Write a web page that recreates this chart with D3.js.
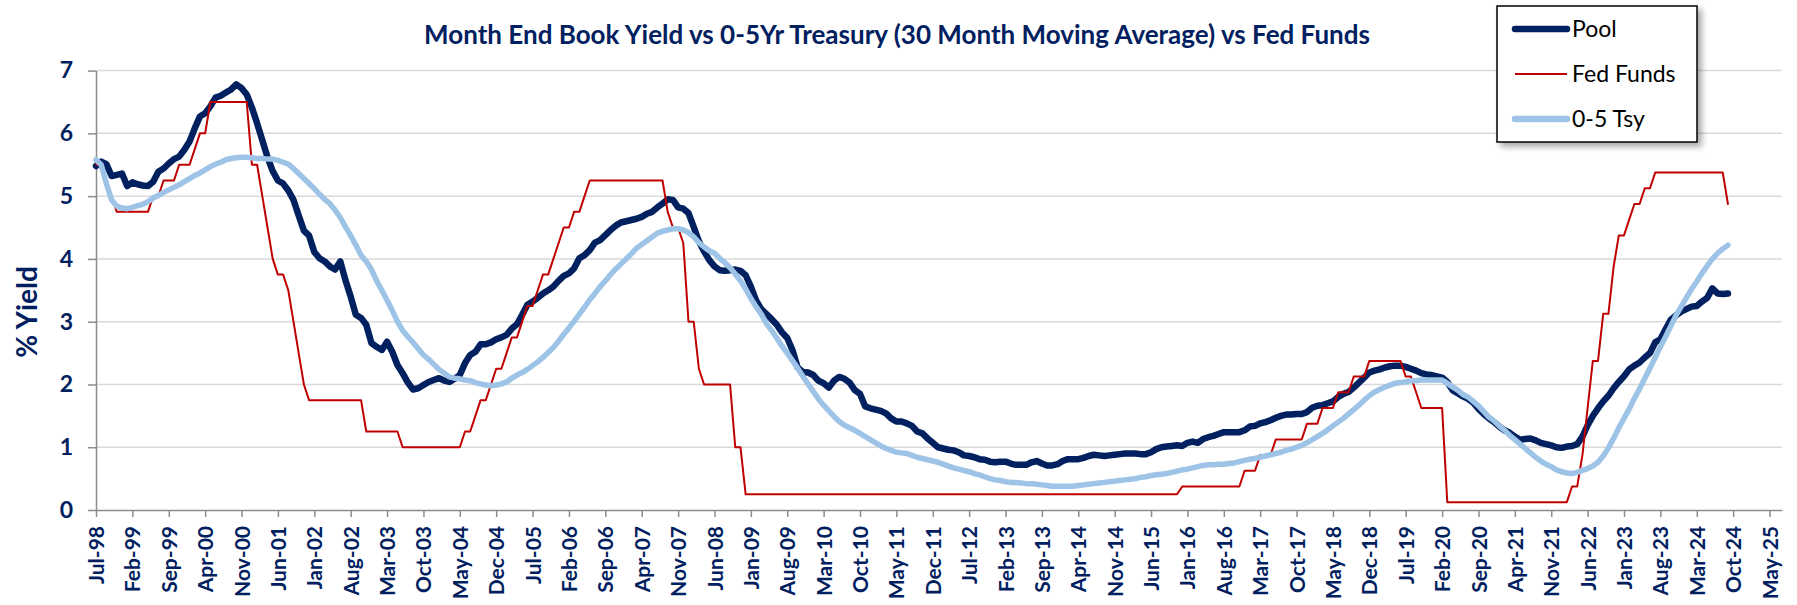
<!DOCTYPE html>
<html>
<head>
<meta charset="utf-8">
<script src="https://cdn.jsdelivr.net/npm/d3@7/dist/d3.min.js"></script>
<style>
body { margin: 0; background: #ffffff; }
text { font-family: Lato, "Open Sans", sans-serif; }
</style>
</head>
<body>
<div id="chart"></div>
<script>
// monthly month-end values, first point Jul-98, last point Sep-24
var tickLabels = ["Jul-98","Feb-99","Sep-99","Apr-00","Nov-00","Jun-01","Jan-02","Aug-02","Mar-03","Oct-03",
    "May-04","Dec-04","Jul-05","Feb-06","Sep-06","Apr-07","Nov-07","Jun-08","Jan-09","Aug-09",
    "Mar-10","Oct-10","May-11","Dec-11","Jul-12","Feb-13","Sep-13","Apr-14","Nov-14","Jun-15",
    "Jan-16","Aug-16","Mar-17","Oct-17","May-18","Dec-18","Jul-19","Feb-20","Sep-20","Apr-21",
    "Nov-21","Jun-22","Jan-23","Aug-23","Mar-24","Oct-24","May-25"];
var monthsPerTick = 7;
var yTicks = [0, 1, 2, 3, 4, 5, 6, 7];

var pool = [
    5.48, 5.55, 5.51, 5.32, 5.34, 5.36,
    5.16, 5.22, 5.19, 5.17, 5.16, 5.23, 5.39, 5.44, 5.52, 5.59, 5.63, 5.74,
    5.87, 6.08, 6.27, 6.32, 6.43, 6.57, 6.60, 6.65, 6.70, 6.78, 6.72, 6.62,
    6.41, 6.16, 5.89, 5.62, 5.40, 5.25, 5.20, 5.09, 4.94, 4.69, 4.45, 4.37,
    4.11, 4.01, 3.96, 3.88, 3.83, 3.96, 3.66, 3.40, 3.11, 3.06, 2.95, 2.66,
    2.60, 2.55, 2.68, 2.52, 2.31, 2.18, 2.03, 1.92, 1.94, 1.99, 2.04, 2.07,
    2.10, 2.06, 2.04, 2.09, 2.15, 2.34, 2.47, 2.52, 2.64, 2.64, 2.67, 2.72,
    2.75, 2.79, 2.89, 2.96, 3.11, 3.27, 3.32, 3.38, 3.45, 3.50, 3.56, 3.65,
    3.73, 3.77, 3.85, 4.01, 4.06, 4.14, 4.26, 4.30, 4.38, 4.46, 4.53, 4.58,
    4.60, 4.62, 4.64, 4.67, 4.72, 4.75, 4.82, 4.88, 4.95, 4.94, 4.82, 4.80,
    4.73, 4.51, 4.28, 4.12, 3.98, 3.88, 3.82, 3.81, 3.82, 3.83, 3.81, 3.74,
    3.56, 3.34, 3.20, 3.12, 3.04, 2.95, 2.83, 2.74, 2.55, 2.27, 2.20, 2.19,
    2.15, 2.06, 2.02, 1.95, 2.06, 2.12, 2.09, 2.03, 1.91, 1.85, 1.65, 1.62,
    1.60, 1.58, 1.54, 1.46, 1.41, 1.41, 1.38, 1.34, 1.25, 1.22, 1.14, 1.07,
    1.00, 0.98, 0.96, 0.95, 0.92, 0.87, 0.86, 0.84, 0.81, 0.80, 0.77, 0.76,
    0.77, 0.77, 0.74, 0.72, 0.72, 0.72, 0.76, 0.78, 0.74, 0.71, 0.71, 0.73,
    0.78, 0.81, 0.81, 0.81, 0.83, 0.86, 0.88, 0.87, 0.86, 0.87, 0.88, 0.89,
    0.90, 0.90, 0.90, 0.89, 0.89, 0.92, 0.97, 1.00, 1.01, 1.02, 1.03, 1.02,
    1.07, 1.09, 1.07, 1.13, 1.16, 1.18, 1.21, 1.24, 1.24, 1.24, 1.24, 1.27,
    1.33, 1.34, 1.38, 1.40, 1.43, 1.47, 1.50, 1.52, 1.52, 1.53, 1.53, 1.56,
    1.63, 1.66, 1.67, 1.70, 1.73, 1.80, 1.85, 1.88, 1.95, 2.03, 2.11, 2.19,
    2.22, 2.24, 2.27, 2.29, 2.30, 2.30, 2.28, 2.25, 2.22, 2.18, 2.16, 2.15,
    2.13, 2.11, 2.04, 1.91, 1.86, 1.81, 1.77, 1.71, 1.61, 1.53, 1.46, 1.40,
    1.33, 1.27, 1.23, 1.17, 1.12, 1.13, 1.14, 1.11, 1.07, 1.05, 1.03, 1.00,
    0.99, 1.01, 1.02, 1.05, 1.17, 1.35, 1.50, 1.62, 1.73, 1.82, 1.94, 2.04,
    2.13, 2.24, 2.30, 2.35, 2.43, 2.50, 2.67, 2.72, 2.88, 3.03, 3.10, 3.16,
    3.20, 3.24, 3.25, 3.32, 3.38, 3.53, 3.45, 3.44, 3.45
];

var fedFunds = [
    5.5, 5.5, 5.25, 5.0, 4.75, 4.75,
    4.75, 4.75, 4.75, 4.75, 4.75, 5.0, 5.0, 5.25, 5.25, 5.25, 5.5, 5.5,
    5.5, 5.75, 6.0, 6.0, 6.5, 6.5, 6.5, 6.5, 6.5, 6.5, 6.5, 6.5,
    5.5, 5.5, 5.0, 4.5, 4.0, 3.75, 3.75, 3.5, 3.0, 2.5, 2.0, 1.75,
    1.75, 1.75, 1.75, 1.75, 1.75, 1.75, 1.75, 1.75, 1.75, 1.75, 1.25, 1.25,
    1.25, 1.25, 1.25, 1.25, 1.25, 1.0, 1.0, 1.0, 1.0, 1.0, 1.0, 1.0,
    1.0, 1.0, 1.0, 1.0, 1.0, 1.25, 1.25, 1.5, 1.75, 1.75, 2.0, 2.25,
    2.25, 2.5, 2.75, 2.75, 3.0, 3.25, 3.25, 3.5, 3.75, 3.75, 4.0, 4.25,
    4.5, 4.5, 4.75, 4.75, 5.0, 5.25, 5.25, 5.25, 5.25, 5.25, 5.25, 5.25,
    5.25, 5.25, 5.25, 5.25, 5.25, 5.25, 5.25, 5.25, 4.75, 4.5, 4.5, 4.25,
    3.0, 3.0, 2.25, 2.0, 2.0, 2.0, 2.0, 2.0, 2.0, 1.0, 1.0, 0.25,
    0.25, 0.25, 0.25, 0.25, 0.25, 0.25, 0.25, 0.25, 0.25, 0.25, 0.25, 0.25,
    0.25, 0.25, 0.25, 0.25, 0.25, 0.25, 0.25, 0.25, 0.25, 0.25, 0.25, 0.25,
    0.25, 0.25, 0.25, 0.25, 0.25, 0.25, 0.25, 0.25, 0.25, 0.25, 0.25, 0.25,
    0.25, 0.25, 0.25, 0.25, 0.25, 0.25, 0.25, 0.25, 0.25, 0.25, 0.25, 0.25,
    0.25, 0.25, 0.25, 0.25, 0.25, 0.25, 0.25, 0.25, 0.25, 0.25, 0.25, 0.25,
    0.25, 0.25, 0.25, 0.25, 0.25, 0.25, 0.25, 0.25, 0.25, 0.25, 0.25, 0.25,
    0.25, 0.25, 0.25, 0.25, 0.25, 0.25, 0.25, 0.25, 0.25, 0.25, 0.25, 0.375,
    0.375, 0.375, 0.375, 0.375, 0.375, 0.375, 0.375, 0.375, 0.375, 0.375, 0.375, 0.625,
    0.625, 0.625, 0.875, 0.875, 0.875, 1.125, 1.125, 1.125, 1.125, 1.125, 1.125, 1.375,
    1.375, 1.375, 1.625, 1.625, 1.625, 1.875, 1.875, 1.875, 2.125, 2.125, 2.125, 2.375,
    2.375, 2.375, 2.375, 2.375, 2.375, 2.375, 2.125, 2.125, 1.875, 1.625, 1.625, 1.625,
    1.625, 1.625, 0.125, 0.125, 0.125, 0.125, 0.125, 0.125, 0.125, 0.125, 0.125, 0.125,
    0.125, 0.125, 0.125, 0.125, 0.125, 0.125, 0.125, 0.125, 0.125, 0.125, 0.125, 0.125,
    0.125, 0.125, 0.375, 0.375, 0.875, 1.625, 2.375, 2.375, 3.125, 3.125, 3.875, 4.375,
    4.375, 4.625, 4.875, 4.875, 5.125, 5.125, 5.375, 5.375, 5.375, 5.375, 5.375, 5.375,
    5.375, 5.375, 5.375, 5.375, 5.375, 5.375, 5.375, 5.375, 4.875
];

var tsy = [
    5.58, 5.50, 5.20, 4.94, 4.84, 4.81,
    4.80, 4.82, 4.85, 4.87, 4.91, 4.97, 5.01, 5.06, 5.10, 5.14, 5.18, 5.23,
    5.28, 5.33, 5.37, 5.42, 5.47, 5.51, 5.54, 5.58, 5.60, 5.61, 5.62, 5.62,
    5.61, 5.60, 5.60, 5.59, 5.59, 5.57, 5.54, 5.51, 5.44, 5.36, 5.28, 5.20,
    5.12, 5.03, 4.95, 4.88, 4.78, 4.66, 4.51, 4.37, 4.22, 4.06, 3.96, 3.83,
    3.65, 3.50, 3.34, 3.18, 3.00, 2.86, 2.76, 2.67, 2.57, 2.47, 2.40, 2.32,
    2.24, 2.18, 2.12, 2.10, 2.09, 2.07, 2.06, 2.03, 2.01, 1.99, 1.98, 1.99,
    2.01, 2.04, 2.10, 2.15, 2.19, 2.24, 2.30, 2.36, 2.43, 2.51, 2.59, 2.69,
    2.80, 2.90, 3.01, 3.12, 3.23, 3.35, 3.45, 3.56, 3.65, 3.75, 3.84, 3.92,
    4.00, 4.08, 4.17, 4.23, 4.29, 4.35, 4.41, 4.44, 4.46, 4.48, 4.48, 4.46,
    4.42, 4.35, 4.26, 4.19, 4.13, 4.09, 4.01, 3.94, 3.86, 3.76, 3.65, 3.52,
    3.37, 3.24, 3.12, 2.97, 2.86, 2.74, 2.61, 2.50, 2.38, 2.26, 2.13, 2.01,
    1.89, 1.77, 1.67, 1.58, 1.49, 1.41, 1.35, 1.31, 1.27, 1.22, 1.17, 1.12,
    1.07, 1.02, 0.98, 0.95, 0.92, 0.91, 0.90, 0.87, 0.84, 0.82, 0.80, 0.78,
    0.76, 0.73, 0.70, 0.67, 0.65, 0.63, 0.61, 0.58, 0.56, 0.53, 0.50, 0.48,
    0.47, 0.45, 0.44, 0.44, 0.43, 0.42, 0.42, 0.41, 0.40, 0.39, 0.38, 0.38,
    0.38, 0.38, 0.38, 0.39, 0.40, 0.41, 0.42, 0.43, 0.44, 0.45, 0.46, 0.47,
    0.48, 0.49, 0.50, 0.52, 0.53, 0.55, 0.56, 0.57, 0.58, 0.60, 0.62, 0.64,
    0.65, 0.67, 0.69, 0.71, 0.72, 0.72, 0.73, 0.73, 0.74, 0.75, 0.77, 0.79,
    0.81, 0.82, 0.84, 0.86, 0.88, 0.90, 0.92, 0.95, 0.97, 1.00, 1.03, 1.07,
    1.12, 1.17, 1.22, 1.28, 1.34, 1.40, 1.46, 1.53, 1.60, 1.67, 1.75, 1.82,
    1.88, 1.92, 1.96, 1.99, 2.02, 2.03, 2.04, 2.06, 2.06, 2.07, 2.07, 2.07,
    2.07, 2.07, 2.02, 1.96, 1.91, 1.84, 1.80, 1.73, 1.66, 1.57, 1.48, 1.42,
    1.34, 1.27, 1.19, 1.12, 1.05, 0.98, 0.91, 0.84, 0.78, 0.73, 0.69, 0.64,
    0.61, 0.59, 0.58, 0.60, 0.63, 0.66, 0.70, 0.76, 0.86, 0.99, 1.14, 1.31,
    1.46, 1.61, 1.78, 1.93, 2.10, 2.26, 2.43, 2.60, 2.76, 2.93, 3.10, 3.24,
    3.38, 3.52, 3.64, 3.77, 3.89, 4.00, 4.09, 4.16, 4.22
];

var seriesNames = ["Pool", "Fed Funds", "0-5 Tsy"];
var seriesColors = ["#002060", "#c00000", "#9dc3e6"];
var seriesWidths = [6.5, 2, 5.5];

function init()
{
    var w = 1797;
    var h = 605;
    var left = 96, right = 1782, top = 70.6, bottom = 510;
    var navy = "#002060";

    var xScale = d3.scaleLinear()
        .domain([0, 324.4])
        .range([left, right]);

    var yScale = d3.scaleLinear()
        .domain([0, 7])
        .range([bottom, top]);

    var svg = d3.select("#chart")
        .append("svg")
        .attr("width", w)
        .attr("height", h)
        .style("display", "block")
        .style("background", "#fff");

    // gridlines
    svg.append("g")
        .selectAll("line")
        .data(yTicks.filter(function(d){ return d > 0; }))
        .enter()
        .append("line")
        .attr("x1", left)
        .attr("x2", right)
        .attr("y1", function(d){ return yScale(d); })
        .attr("y2", function(d){ return yScale(d); })
        .attr("stroke", "#d9d9d9")
        .attr("stroke-width", 1.5);

    // y axis
    var yAxis = svg.append("g")
        .attr("transform", "translate(" + left + ",0)")
        .call(d3.axisLeft(yScale)
            .tickValues(yTicks)
            .tickFormat(d3.format("d"))
            .tickSize(8)
            .tickSizeOuter(0)
            .tickPadding(15));
    yAxis.select(".domain").attr("stroke", "#8c8c8c").attr("stroke-width", 1.5);
    yAxis.selectAll(".tick line").attr("stroke", "#8c8c8c").attr("stroke-width", 1.5);
    yAxis.selectAll("text")
        .attr("fill", navy)
        .style("font-size", "23px")
        .style("font-weight", "bold");

    // x axis
    var tickIdx = tickLabels.map(function(d, i){ return i * monthsPerTick; });
    var xAxis = svg.append("g")
        .attr("transform", "translate(0," + bottom + ")")
        .call(d3.axisBottom(xScale)
            .tickValues(tickIdx)
            .tickFormat(function(d, i){ return tickLabels[i]; })
            .tickSize(7)
            .tickSizeOuter(0));
    xAxis.select(".domain").attr("stroke", "#8c8c8c").attr("stroke-width", 1.5);
    xAxis.selectAll(".tick line").attr("stroke", "#8c8c8c").attr("stroke-width", 1.5);
    xAxis.selectAll("text")
        .attr("transform", "rotate(-90)")
        .attr("text-anchor", "end")
        .attr("x", -16)
        .attr("y", 0)
        .attr("dy", "0.36em")
        .attr("fill", navy)
        .style("font-size", "21px")
        .style("font-weight", "bold");

    // y title
    svg.append("text")
        .attr("transform", "translate(37,312) rotate(-90)")
        .attr("text-anchor", "middle")
        .attr("fill", navy)
        .style("font-size", "28px")
        .style("font-weight", "bold")
        .text("% Yield");

    // title
    svg.append("text")
        .attr("x", 897)
        .attr("y", 44)
        .attr("text-anchor", "middle")
        .attr("fill", navy)
        .style("font-size", "26px")
        .style("font-weight", "bold")
        .text("Month End Book Yield vs 0-5Yr Treasury (30 Month Moving Average) vs Fed Funds");

    var line = d3.line()
        .x(function(d, i){ return xScale(i); })
        .y(function(d){ return yScale(d); });

    var allSeries = [pool, fedFunds, tsy];
    svg.append("g")
        .selectAll("path")
        .data(allSeries)
        .enter()
        .append("path")
        .attr("d", line)
        .attr("fill", "none")
        .attr("stroke", function(d, i){ return seriesColors[i]; })
        .attr("stroke-width", function(d, i){ return seriesWidths[i]; })
        .attr("stroke-linejoin", "round")
        .attr("stroke-linecap", "round");

    // legend
    var defs = svg.append("defs");
    var filter = defs.append("filter")
        .attr("id", "shadow")
        .attr("x", "-10%").attr("y", "-10%")
        .attr("width", "130%").attr("height", "130%");
    filter.append("feDropShadow")
        .attr("dx", 4).attr("dy", 4)
        .attr("stdDeviation", 3)
        .attr("flood-color", "#000")
        .attr("flood-opacity", 0.35);

    var legend = svg.append("g").attr("transform", "translate(1497,6)");
    legend.append("rect")
        .attr("width", 200)
        .attr("height", 136)
        .attr("fill", "#fff")
        .attr("stroke", "#000")
        .attr("stroke-width", 1.5)
        .attr("filter", "url(#shadow)");

    var items = legend.selectAll(".item")
        .data(seriesNames)
        .enter()
        .append("g")
        .attr("transform", function(d, i){ return "translate(0," + (23 + i * 45) + ")"; });
    items.append("line")
        .attr("x1", 18).attr("x2", 70)
        .attr("stroke", function(d, i){ return seriesColors[i]; })
        .attr("stroke-width", function(d, i){ return i == 1 ? 2 : 6.5; })
        .attr("stroke-linecap", function(d, i){ return i == 1 ? "butt" : "round"; });
    items.append("text")
        .attr("x", 75)
        .attr("dy", "0.35em")
        .attr("fill", "#000")
        .style("font-size", "23px")
        .text(function(d){ return d; });
}

window.onload = init;
</script>
</body>
</html>
